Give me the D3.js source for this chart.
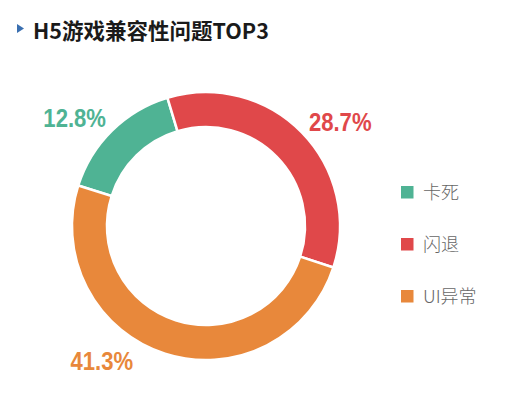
<!DOCTYPE html>
<html lang="zh">
<head>
    <meta charset="UTF-8">
    <title>H5游戏兼容性问题TOP3</title>
    <script src="https://d3js.org/d3.v7.min.js"></script>
    <style>
        body { margin: 0; background: #fff; }
        text { font-family: "Noto Sans CJK SC", "Noto Sans", sans-serif; }
    </style>
</head>
<body>
    <script>
        // data
        const categories = ["卡死", "闪退", "UI异常"];
        const values = [12.8, 28.7, 41.3];
        const colors = ["#4fb394", "#e0484a", "#e8883b"];
        const title = "H5游戏兼容性问题TOP3";

        const w = 510, h = 400;
        const cx = 206, cy = 226;
        const outerR = 134, innerR = 99, labelR = 170;
        // degrees to nudge each label away from its slice's mid angle
        const labelNudge = [-6, 6.5, 20];

        const svg = d3.select("body")
            .append("svg")
            .attr("width", w)
            .attr("height", h);

        // title + marker
        svg.append("path")
            .attr("d", "M17,24 L24,28.5 L17,33 Z")
            .attr("fill", "#3a6fb0");

        svg.append("text")
            .attr("x", 33)
            .attr("y", 39)
            .attr("font-size", 21.5)
            .attr("font-weight", "bold")
            .attr("fill", "#1a1a1a")
            .text(title);

        const pie = d3.pie()
            .sort(null)
            .startAngle(-72.4 * Math.PI / 180)
            .endAngle((360 - 72.4) * Math.PI / 180);

        const arcs = pie(values);

        const arc = d3.arc()
            .innerRadius(innerR)
            .outerRadius(outerR);

        const g = svg.append("g")
            .attr("transform", "translate(" + cx + "," + cy + ")");

        g.selectAll("path.slice")
            .data(arcs)
            .enter()
            .append("path")
            .attr("class", "slice")
            .attr("d", arc)
            .attr("fill", (d, i) => colors[i])
            .attr("stroke", "#fff")
            .attr("stroke-width", 2.5);

        // percentage labels
        g.selectAll("text.pct")
            .data(arcs)
            .enter()
            .append("text")
            .attr("class", "pct")
            .attr("transform", (d, i) => {
                const a = (d.startAngle + d.endAngle) / 2 + labelNudge[i] * Math.PI / 180;
                const x = Math.sin(a) * labelR;
                const y = -Math.cos(a) * labelR;
                return "translate(" + x + "," + y + ") scale(0.85,1)";
            })
            .attr("y", 9.3)
            .attr("text-anchor", "middle")
            .style("font-family", "'Liberation Sans', Arial, sans-serif")
            .attr("font-size", 26)
            .attr("font-weight", "bold")
            .attr("fill", (d, i) => colors[i])
            .text((d, i) => values[i] + "%");

        // legend
        const legend = svg.append("g")
            .attr("transform", "translate(401,186)");

        const item = legend.selectAll("g")
            .data(categories)
            .enter()
            .append("g")
            .attr("transform", (d, i) => "translate(0," + (i * 52) + ")");

        item.append("rect")
            .attr("width", 12.5)
            .attr("height", 12.5)
            .attr("fill", (d, i) => colors[i]);

        item.append("text")
            .attr("x", 22)
            .attr("y", 12.5)
            .attr("font-size", 18)
            .attr("font-weight", 300)
            .attr("fill", "#666")
            .text(d => d);
    </script>
</body>
</html>
